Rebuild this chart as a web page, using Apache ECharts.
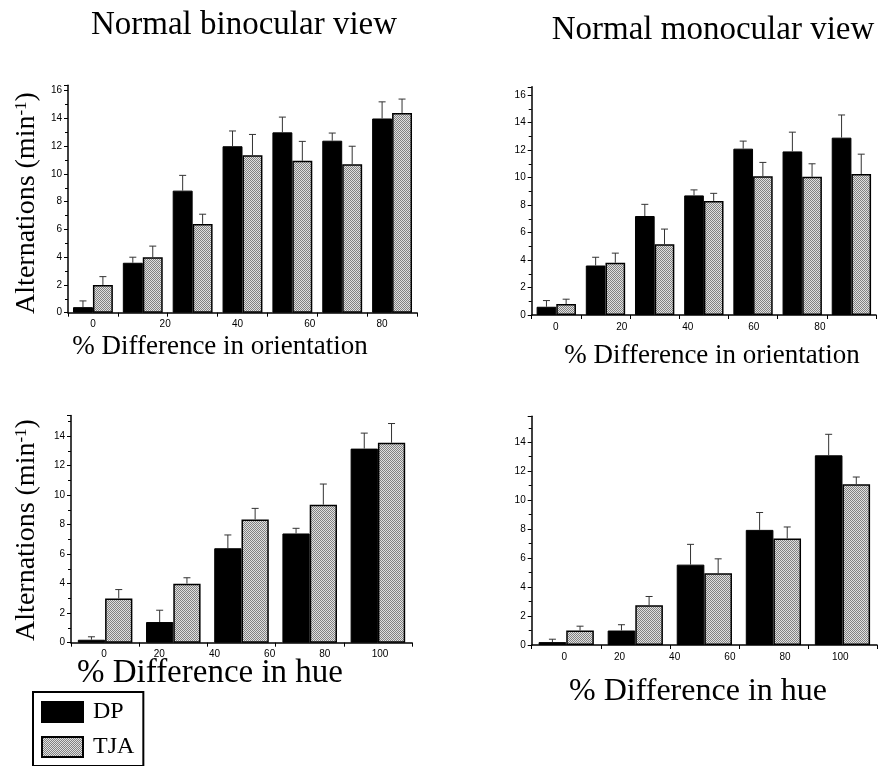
<!DOCTYPE html>
<html>
<head>
<meta charset="utf-8">
<script src="https://cdn.jsdelivr.net/npm/echarts@6/dist/echarts.min.js"></script>
<style>
  html, body { margin: 0; padding: 0; background: #fff; }
  #main { width: 878px; height: 766px; }
</style>
</head>
<body>
<div id="main"></div>
<script>
// conditions (bar groups) and the tick labels printed under each panel
var oriConds = ['o1', 'o2', 'o3', 'o4', 'o5', 'o6', 'o7'];
var hueConds = ['h1', 'h2', 'h3', 'h4', 'h5'];
var oriTicks = [0, 20, 40, 60, 80];
var hueTicks = [0, 20, 40, 60, 80, 100];

// binocular, orientation
var binoOriDP     = [0.4, 3.6, 8.8, 12.0, 13.0, 12.4, 14.0];
var binoOriDPErr  = [0.45, 0.4, 1.1, 1.1, 1.1, 0.55, 1.2];
var binoOriTJA    = [2.0, 4.0, 6.4, 11.35, 10.95, 10.7, 14.4];
var binoOriTJAErr = [0.6, 0.8, 0.7, 1.5, 1.4, 1.3, 1.0];
// monocular, orientation
var monoOriDP     = [0.6, 3.6, 7.2, 8.7, 12.1, 11.9, 12.9];
var monoOriDPErr  = [0.45, 0.6, 0.85, 0.4, 0.55, 1.4, 1.65];
var monoOriTJA    = [0.8, 3.8, 5.15, 8.3, 10.1, 10.05, 10.25];
var monoOriTJAErr = [0.35, 0.7, 1.1, 0.55, 1.0, 0.95, 1.45];
// binocular, hue
var binoHueDP     = [0.2, 1.4, 6.4, 7.4, 13.15];
var binoHueDPErr  = [0.2, 0.8, 0.9, 0.35, 1.05];
var binoHueTJA    = [3.0, 4.0, 8.35, 9.35, 13.55];
var binoHueTJAErr = [0.6, 0.4, 0.75, 1.4, 1.3];
// monocular, hue
var monoHueDP     = [0.2, 1.0, 5.55, 7.95, 13.1];
var monoHueDPErr  = [0.2, 0.4, 1.4, 1.2, 1.45];
var monoHueTJA    = [1.0, 2.75, 4.95, 7.35, 11.1];
var monoHueTJAErr = [0.3, 0.6, 1.0, 0.8, 0.5];

var GAP = 0.2; // barCategoryGap

// stippled grey fill for TJA
function makeStipple() {
	var c = document.createElement('canvas');
	c.width = 2; c.height = 2;
	var ctx = c.getContext('2d');
	ctx.fillStyle = '#e0e0e0';
	ctx.fillRect(0, 0, 2, 2);
	ctx.fillStyle = '#828282';
	ctx.fillRect(0, 0, 1, 1);
	ctx.fillRect(1, 1, 1, 1);
	return c;
}
var stipple = { image: makeStipple(), repeat: 'repeat' };

var panels = [
	{ grid: { left: 68, top: 85.2, width: 349, height: 227.5 }, yMax: 16.4, cats: oriConds, ticks: oriTicks, xMin: -6.9, xMax: 89.7,
	  dp: binoOriDP, dpErr: binoOriDPErr, tja: binoOriTJA, tjaErr: binoOriTJAErr },
	{ grid: { left: 531.7, top: 86.8, width: 344.3, height: 228.2 }, yMax: 16.6, cats: oriConds, ticks: oriTicks, xMin: -7.3, xMax: 97,
	  dp: monoOriDP, dpErr: monoOriDPErr, tja: monoOriTJA, tjaErr: monoOriTJAErr },
	{ grid: { left: 71, top: 415.4, width: 341, height: 227.3 }, yMax: 15.4, cats: hueConds, ticks: hueTicks, xMin: -12, xMax: 111.6,
	  dp: binoHueDP, dpErr: binoHueDPErr, tja: binoHueTJA, tjaErr: binoHueTJAErr },
	{ grid: { left: 531.7, top: 416.2, width: 345.3, height: 228.8 }, yMax: 15.8, cats: hueConds, ticks: hueTicks, xMin: -11.8, xMax: 113.3,
	  dp: monoHueDP, dpErr: monoHueDPErr, tja: monoHueTJA, tjaErr: monoHueTJAErr }
];

function errRender(shift) {
	return function (params, api) {
		var band = api.size([1, 0])[0];
		var base = api.coord([api.value(0), api.value(1)]);
		var top = api.coord([api.value(0), api.value(2)]);
		var cx = base[0] + shift * band * (1 - GAP) / 4;
		return {
			type: 'group',
			children: [
				{ type: 'line', shape: { x1: cx, y1: base[1], x2: cx, y2: top[1] }, style: { stroke: '#333', lineWidth: 1 } },
				{ type: 'line', shape: { x1: cx - 3.5, y1: top[1], x2: cx + 3.5, y2: top[1] }, style: { stroke: '#333', lineWidth: 1 } }
			]
		};
	};
}

var tickFont = { fontFamily: 'Liberation Sans', fontSize: 10, color: '#000' };
var grids = [], xAxes = [], yAxes = [], series = [];

panels.forEach(function (p, i) {
	grids.push(p.grid);
	xAxes.push({
		gridIndex: i, type: 'category', data: p.cats,
		axisLine: { onZero: false, lineStyle: { color: '#000', width: 1.5 } },
		axisTick: { show: true, length: 4, lineStyle: { color: '#000' } },
		axisLabel: { show: false },
		splitLine: { show: false }
	});
	xAxes.push({
		gridIndex: i, type: 'value', position: 'bottom', min: p.xMin, max: p.xMax,
		axisLine: { show: false }, axisTick: { show: false }, splitLine: { show: false },
		axisLabel: Object.assign({ customValues: p.ticks, margin: 7 }, tickFont)
	});
	yAxes.push({
		gridIndex: i, type: 'value', min: 0, max: p.yMax, interval: 2,
		axisLine: { show: true, onZero: false, lineStyle: { color: '#000', width: 1.5 } },
		axisTick: { show: true, length: 4, lineStyle: { color: '#000' } },
		minorTick: { show: true, splitNumber: 2, length: 3, lineStyle: { color: '#000' } },
		splitLine: { show: false },
		axisLabel: Object.assign({
			margin: 6,
			formatter: function (v) { return v % 2 === 0 ? v : ''; }
		}, tickFont)
	});

	var dpErrData = p.dp.map(function (v, k) { return [k, v, v + p.dpErr[k]]; });
	var tjaErrData = p.tja.map(function (v, k) { return [k, v, v + p.tjaErr[k]]; });

	series.push({
		name: 'DP', type: 'bar', xAxisIndex: i * 2, yAxisIndex: i, data: p.dp,
		barGap: '0%', barCategoryGap: (GAP * 100) + '%',
		itemStyle: { color: '#000', borderColor: '#000', borderWidth: 1 }
	});
	series.push({
		name: 'TJA', type: 'bar', xAxisIndex: i * 2, yAxisIndex: i, data: p.tja,
		barGap: '0%', barCategoryGap: (GAP * 100) + '%',
		itemStyle: { color: stipple, borderColor: '#000', borderWidth: 1.5 }
	});
	series.push({
		name: 'errDP', type: 'custom', xAxisIndex: i * 2, yAxisIndex: i,
		renderItem: errRender(-1), encode: { x: 0, y: [1, 2] }, data: dpErrData, z: 3
	});
	series.push({
		name: 'errTJA', type: 'custom', xAxisIndex: i * 2, yAxisIndex: i,
		renderItem: errRender(1), encode: { x: 0, y: [1, 2] }, data: tjaErrData, z: 3
	});
});

function label(x, y, text, size, rot) {
	return {
		type: 'text', x: x, y: y, rotation: rot || 0, silent: true,
		style: {
			text: text, fontFamily: 'Liberation Serif', fontSize: size, fill: '#000',
			align: 'center', verticalAlign: 'middle',
			rich: { sup: { fontFamily: 'Liberation Serif', fontSize: 17, verticalAlign: 'top', fill: '#000' } }
		}
	};
}

var option = {
	animation: false,
	backgroundColor: '#fff',
	grid: grids,
	xAxis: xAxes,
	yAxis: yAxes,
	series: series,
	legend: {
		data: ['DP', 'TJA'], left: 33, top: 692, orient: 'vertical',
		icon: 'rect', itemWidth: 41, itemHeight: 20, itemGap: 11,
		padding: [8, 9, 7, 8], borderColor: '#000', borderWidth: 2,
		selectedMode: false,
		textStyle: { fontFamily: 'Liberation Serif', fontSize: 24, color: '#000', padding: [0, 0, 0, 5] }
	},
	graphic: [
		label(244, 25, 'Normal binocular view', 33),
		label(713, 30, 'Normal monocular view', 33),
		label(220, 347, '% Difference in orientation', 27),
		label(712, 356, '% Difference in orientation', 27),
		label(210, 673, '% Difference in hue', 33),
		label(698, 692, '% Difference in hue', 32),
		label(27, 203, 'Alternations (min{sup|-1})', 28, Math.PI / 2),
		label(27, 530, 'Alternations (min{sup|-1})', 28, Math.PI / 2)
	]
};

var chart = echarts.init(document.getElementById('main'));
chart.setOption(option);
</script>
</body>
</html>
